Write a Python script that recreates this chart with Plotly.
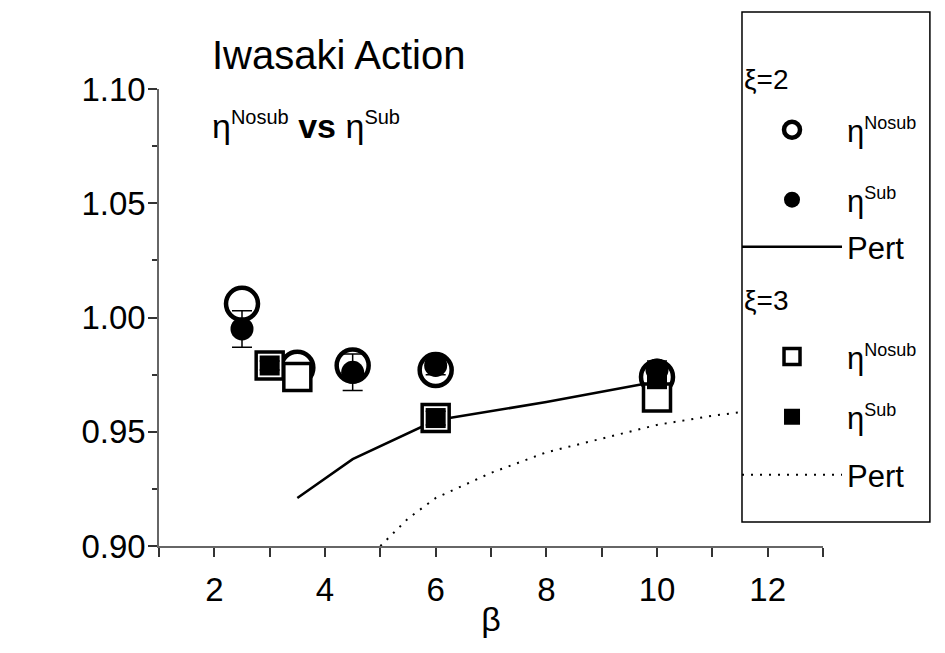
import plotly.graph_objects as go

# xi = 2
beta_x2 = [2.5, 3.5, 4.5, 6, 10]
nosub_x2 = [1.006, 0.978, 0.979, 0.977, 0.974]
nosub_x2_err = [0.003, 0.004, 0.004, 0.003, 0.003]
sub_x2 = [0.995, 0.975, 0.976, 0.979, 0.977]
sub_x2_err = [0.008, 0.004, 0.008, 0.004, 0.004]
pert_beta_x2 = [3.5, 4.5, 6, 8, 10]
pert_x2 = [0.921, 0.938, 0.955, 0.963, 0.972]

# xi = 3
beta_x3_nosub = [3, 3.5, 6, 10]
nosub_x3 = [0.979, 0.974, 0.956, 0.965]
nosub_x3_err = [0.002, 0.006, 0.003, 0.003]
beta_x3_sub = [3, 6, 10]
sub_x3 = [0.979, 0.956, 0.973]
sub_x3_err = [0.002, 0.003, 0.003]
pert_beta_x3 = [5, 5.5, 6, 7, 8, 9, 10, 11, 12]
pert_x3 = [0.900, 0.912, 0.921, 0.932, 0.941, 0.947, 0.953, 0.957, 0.960]

FONT = "Arial, Liberation Sans, sans-serif"
ETA_NOSUB = "η<sup><span style='font-size:18px'>Nosub</span></sup>"
ETA_SUB = "η<sup><span style='font-size:18px'>Sub</span></sup>"

fig = go.Figure()

# curves first, markers over them
fig.add_trace(go.Scatter(x=pert_beta_x2, y=pert_x2, mode="lines", name="Pert",
                         line=dict(color="black", width=2.5), legend="legend3"))
fig.add_trace(go.Scatter(x=pert_beta_x3, y=pert_x3, mode="lines", name="Pert",
                         line=dict(color="black", width=2, dash="2px,7px"), legend="legend6"))

err = lambda e: dict(type="data", array=e, color="black", thickness=1.5, width=10)

fig.add_trace(go.Scatter(x=beta_x2, y=nosub_x2, mode="markers", name=ETA_NOSUB,
                         error_y=err(nosub_x2_err),
                         marker=dict(symbol="circle", size=32, color="white",
                                     line=dict(color="black", width=4.5)),
                         legend="legend"))
fig.add_trace(go.Scatter(x=beta_x2, y=sub_x2, mode="markers", name=ETA_SUB,
                         error_y=err(sub_x2_err),
                         marker=dict(symbol="circle", size=23, color="black"),
                         legend="legend2"))
fig.add_trace(go.Scatter(x=beta_x3_nosub, y=nosub_x3, mode="markers", name=ETA_NOSUB,
                         error_y=err(nosub_x3_err),
                         marker=dict(symbol="square", size=27, color="white",
                                     line=dict(color="black", width=3.5)),
                         legend="legend4"))
fig.add_trace(go.Scatter(x=beta_x3_sub, y=sub_x3, mode="markers", name=ETA_SUB,
                         error_y=err(sub_x3_err),
                         marker=dict(symbol="square", size=20, color="black"),
                         legend="legend5"))

axis_common = dict(showline=True, linecolor="#666", linewidth=1.5, showgrid=False,
                   zeroline=False, ticks="outside", tickcolor="#333", tickwidth=1.5,
                   tickfont=dict(family=FONT, size=33, color="black"))

fig.update_xaxes(range=[1, 13], dtick=2, tick0=2, ticklen=9, ticklabelstandoff=5,
                 minor=dict(ticks="outside", dtick=1, ticklen=9, tickcolor="#333"),
                 title=dict(text="β", font=dict(family=FONT, size=34, color="black"),
                            standoff=0),
                 **axis_common)
fig.update_yaxes(range=[0.90, 1.10], dtick=0.05, tickformat=".2f", ticklen=9,
                 ticklabelstandoff=-4,
                 minor=dict(ticks="outside", dtick=0.025, ticklen=5, tickcolor="#333"),
                 **axis_common)

fig.add_annotation(text="Iwasaki Action", xref="paper", yref="paper", x=0.077, y=1.074,
                   xanchor="left", yanchor="middle", showarrow=False,
                   font=dict(family=FONT, size=40, color="black"))
fig.add_annotation(text="η<sup><span style='font-size:20px'>Nosub</span></sup> <b>vs</b> "
                        "η<sup><span style='font-size:20px'>Sub</span></sup>",
                   xref="paper", yref="paper", x=0.077, y=0.921,
                   xanchor="left", yanchor="middle", showarrow=False,
                   font=dict(family=FONT, size=34, color="black"))

# legend frame
fig.add_shape(type="rect", xref="paper", yref="paper", x0=0.878, x1=1.161, y0=0.0525, y1=1.1685,
              line=dict(color="black", width=1.5), fillcolor="white", layer="above")
for txt, yy in [("ξ=2", 1.02), ("ξ=3", 0.538)]:
    fig.add_annotation(text=txt, xref="paper", yref="paper", x=0.878, y=yy,
                       xanchor="left", yanchor="middle", showarrow=False,
                       font=dict(family=FONT, size=28, color="black"))

leg = dict(x=0.8705, xanchor="left", yanchor="middle", bgcolor="rgba(0,0,0,0)",
           borderwidth=0, itemwidth=100,
           font=dict(family=FONT, size=31, color="black"))

# html body keeps an 8px margin, so the plot box is moved up-left by that much
fig.update_layout(
    width=945, height=653,
    margin=dict(l=151, r=130, t=81, b=115, autoexpand=False),
    paper_bgcolor="white", plot_bgcolor="white",
    font=dict(family=FONT, color="black"),
    showlegend=True,
    legend=dict(leg, y=0.910),
    legend2=dict(leg, y=0.757),
    legend3=dict(leg, y=0.654),
    legend4=dict(leg, y=0.414),
    legend5=dict(leg, y=0.282),
    legend6=dict(leg, y=0.155),
)

fig.write_html("out.html")
